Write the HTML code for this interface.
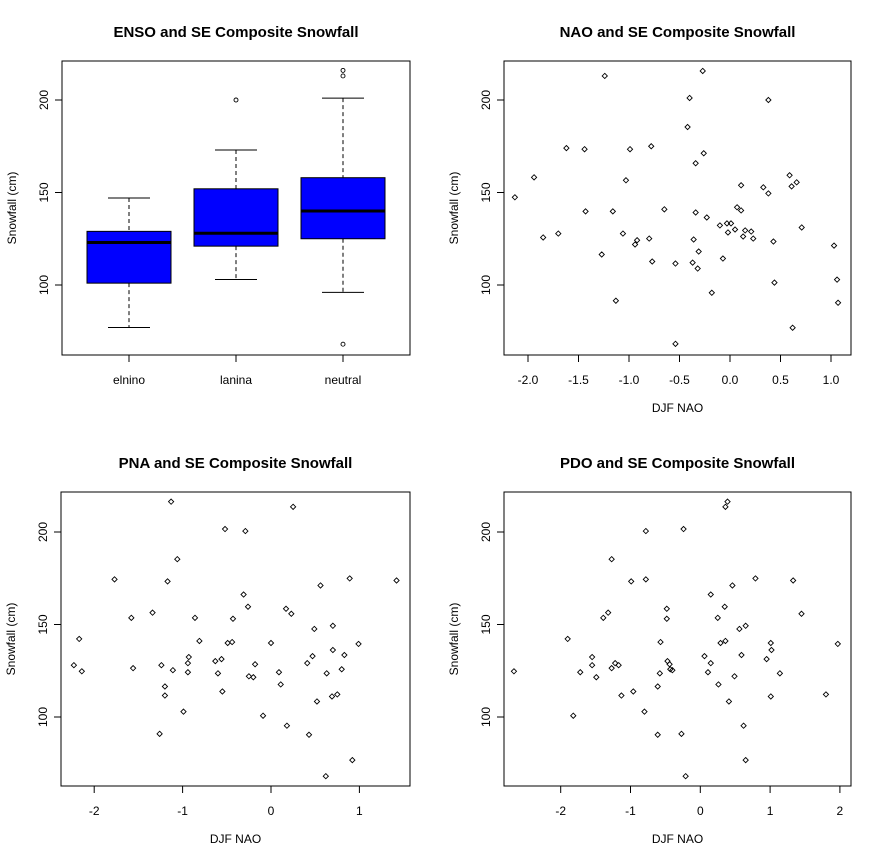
<!DOCTYPE html>
<html><head><meta charset="utf-8"><style>
body{margin:0;background:#fff;}
svg{display:block;font-family:"Liberation Sans",Arial,sans-serif;}
</style></head><body>
<svg id="c" width="883" height="863"></svg>
<script>
// ENSO boxplot data
const ensoCats=["elnino","lanina","neutral"];
const ensoLow=[77,103,96];
const ensoQ1=[101,121,125];
const ensoMed=[123,128,140];
const ensoQ3=[129,152,158];
const ensoHigh=[147,173,201];
const ensoOut=[[],[200],[213,216,68]];
// NAO scatter
const naoX=[-2.13,-1.94,-1.85,-1.70,-1.62,-1.44,-1.43,-1.27,-1.24,-1.16,-1.13,-1.06,-1.03,-0.99,-0.94,-0.92,-0.80,-0.78,-0.77,-0.65,-0.54,-0.54,-0.42,-0.40,-0.37,-0.36,-0.34,-0.34,-0.32,-0.31,-0.27,-0.26,-0.23,-0.18,-0.10,-0.07,-0.03,-0.02,0.01,0.05,0.07,0.11,0.11,0.13,0.15,0.21,0.23,0.33,0.38,0.38,0.43,0.44,0.59,0.61,0.62,0.66,0.71,1.03,1.06,1.07];
const naoY=[147.4,158.2,125.7,127.8,174.0,173.4,139.8,116.5,213.0,139.8,91.5,127.8,156.6,173.4,121.9,124.2,125.1,175.0,112.7,140.9,111.6,68.2,185.4,201.1,112.1,124.6,165.8,139.2,108.9,118.1,215.7,171.2,136.5,95.8,132.2,114.3,133.3,128.4,133.3,130.0,142.0,153.9,140.3,126.2,129.5,128.9,125.1,152.8,200.0,149.5,123.5,101.3,159.3,153.3,76.9,155.5,131.1,121.3,102.9,90.4];
// PNA scatter
const pnaX=[-2.23,-2.17,-2.14,-1.77,-1.58,-1.56,-1.34,-1.26,-1.24,-1.20,-1.20,-1.17,-1.13,-1.11,-1.06,-0.99,-0.94,-0.94,-0.93,-0.86,-0.81,-0.63,-0.60,-0.56,-0.55,-0.52,-0.49,-0.44,-0.43,-0.31,-0.29,-0.26,-0.25,-0.20,-0.18,-0.09,0.00,0.09,0.11,0.17,0.18,0.23,0.25,0.41,0.43,0.47,0.49,0.52,0.56,0.62,0.63,0.69,0.70,0.70,0.75,0.80,0.83,0.89,0.92,0.99,1.42];
const pnaY=[128.0,142.2,124.7,174.4,153.6,126.4,156.4,90.9,128.0,116.5,111.6,173.3,216.4,125.3,185.3,102.9,129.1,124.2,132.4,153.6,141.1,130.2,123.6,131.3,113.8,201.6,140.0,140.5,153.1,166.2,200.5,159.6,122.0,121.5,128.5,100.7,140.0,124.2,117.6,158.5,95.3,155.8,213.6,129.1,90.4,132.9,147.6,108.4,171.1,68.0,123.6,111.1,149.3,136.2,112.2,125.8,133.5,174.9,76.7,139.5,173.8];
// PDO scatter
const pdoX=[-2.67,-1.90,-1.82,-1.72,-1.55,-1.55,-1.49,-1.39,-1.32,-1.27,-1.27,-1.22,-1.17,-1.13,-0.99,-0.96,-0.80,-0.78,-0.78,-0.61,-0.61,-0.58,-0.57,-0.48,-0.48,-0.47,-0.44,-0.43,-0.40,-0.27,-0.24,-0.21,0.06,0.11,0.15,0.15,0.25,0.26,0.29,0.35,0.36,0.39,0.36,0.41,0.46,0.49,0.56,0.59,0.62,0.65,0.65,0.79,0.95,1.01,1.01,1.02,1.14,1.33,1.45,1.80,1.97];
const pdoY=[124.7,142.2,100.7,124.2,132.4,128.0,121.5,153.6,156.4,126.4,185.3,129.1,128.0,111.6,173.3,113.8,102.9,200.5,174.4,116.5,90.4,123.6,140.5,158.5,153.1,130.2,128.5,125.8,125.3,90.9,201.6,68.0,132.9,124.2,129.1,166.2,153.6,117.6,140.0,159.6,213.6,216.4,141.1,108.4,171.1,122.0,147.6,133.5,95.3,149.3,76.7,174.9,131.3,140.0,111.1,136.2,123.6,173.8,155.8,112.2,139.5];
const yTicks=[100,150,200];
const naoTicks=[-2.0,-1.5,-1.0,-0.5,0.0,0.5,1.0];
const pnaTicks=[-2,-1,0,1];
const pdoTicks=[-2,-1,0,1,2];

const svg=document.getElementById('c');
const NS='http://www.w3.org/2000/svg';
function mk(tag,attrs,parent,text){const e=document.createElementNS(NS,tag);for(const k in attrs)e.setAttribute(k,attrs[k]);if(text!==undefined)e.textContent=text;(parent||svg).appendChild(e);return e;}

function panel(p){
  const g=mk('g',{});
  
  
  const ys=v=>p.yBase-(v-100)*1.85;
  const t=mk('text',{x:(p.l+p.r)/2,y:p.t-24,'text-anchor':'middle','font-size':'15','font-weight':'bold'},g,p.title);
  
  
  const box=mk('rect',{x:p.l,y:p.t,width:p.r-p.l,height:p.b-p.t,fill:'none',stroke:'#000','stroke-width':'1'},g);
  
  
  yTicks.forEach(v=>{
    const y=ys(v);
    mk('line',{x1:p.l-7,x2:p.l,y1:y,y2:y,stroke:'#000'},g);
    const tl=mk('text',{x:p.l-14,y:y,'text-anchor':'middle','font-size':'12',transform:`rotate(-90 ${p.l-14} ${y})`},g,v);
    
    
  });
  const yt=mk('text',{x:p.l-46,y:(p.t+p.b)/2,'text-anchor':'middle','font-size':'12',transform:`rotate(-90 ${p.l-46} ${(p.t+p.b)/2})`},g,'Snowfall (cm)');
  
  
  return {g,ys};
}

// Boxplot panel
(function(){
  const p={name:'enso-boxplot-panel',l:62,r:410,t:61,b:355,yBase:285,title:'ENSO and SE Composite Snowfall'};
  const {g,ys}=panel(p);
  const xs=i=>129+i*107;
  ensoCats.forEach((c,i)=>{
    const x=xs(i),w=42;
    mk('line',{x1:x,x2:x,y1:ys(ensoHigh[i]),y2:ys(ensoQ3[i]),stroke:'#000','stroke-dasharray':'4,3'},g);
    mk('line',{x1:x,x2:x,y1:ys(ensoQ1[i]),y2:ys(ensoLow[i]),stroke:'#000','stroke-dasharray':'4,3'},g);
    mk('line',{x1:x-21,x2:x+21,y1:ys(ensoHigh[i]),y2:ys(ensoHigh[i]),stroke:'#000'},g);
    mk('line',{x1:x-21,x2:x+21,y1:ys(ensoLow[i]),y2:ys(ensoLow[i]),stroke:'#000'},g);
    const r=mk('rect',{x:x-w,y:ys(ensoQ3[i]),width:2*w,height:ys(ensoQ1[i])-ys(ensoQ3[i]),fill:'#0000ff',stroke:'#000'},g);
    
    
    mk('line',{x1:x-w,x2:x+w,y1:ys(ensoMed[i]),y2:ys(ensoMed[i]),stroke:'#000','stroke-width':'3'},g);
    ensoOut[i].forEach(v=>{
      const o=mk('circle',{cx:x,cy:ys(v),r:2,fill:'none',stroke:'#000','stroke-width':'0.9'},g);
      
      
    });
    mk('line',{x1:x,x2:x,y1:p.b,y2:p.b+7,stroke:'#000'},g);
    const tl=mk('text',{x:x,y:p.b+29,'text-anchor':'middle','font-size':'12'},g,c);
    
    
  });
})();

function scatter(p,xv,yv,ticks,x0,sx,fmt){
  const {g,ys}=panel(p);
  const xs=v=>x0+v*sx;
  ticks.forEach(v=>{
    const x=xs(v);
    mk('line',{x1:x,x2:x,y1:p.b,y2:p.b+7,stroke:'#000'},g);
    const tl=mk('text',{x:x,y:p.b+29,'text-anchor':'middle','font-size':'12'},g,fmt(v));
    
    
  });
  const xt=mk('text',{x:(p.l+p.r)/2,y:p.b+57,'text-anchor':'middle','font-size':'12'},g,'DJF NAO');
  
  
  xv.forEach((v,i)=>{
    const cx=xs(v),cy=ys(yv[i]),r=2.6;
    const d=mk('polygon',{points:`${cx},${cy-r} ${cx+r},${cy} ${cx},${cy+r} ${cx-r},${cy}`,fill:'none',stroke:'#000','stroke-width':'0.9'},g);
    
    
  });
}
scatter({name:'nao-scatter-panel',l:504,r:851,t:61,b:355,yBase:285,title:'NAO and SE Composite Snowfall'},naoX,naoY,naoTicks,730,101,v=>v.toFixed(1));
scatter({name:'pna-scatter-panel',l:61,r:410,t:492,b:786,yBase:717,title:'PNA and SE Composite Snowfall'},pnaX,pnaY,pnaTicks,271,88.4,v=>String(v));
scatter({name:'pdo-scatter-panel',l:504,r:851,t:492,b:786,yBase:717,title:'PDO and SE Composite Snowfall'},pdoX,pdoY,pdoTicks,700.3,69.8,v=>String(v));
</script>
</body></html>
